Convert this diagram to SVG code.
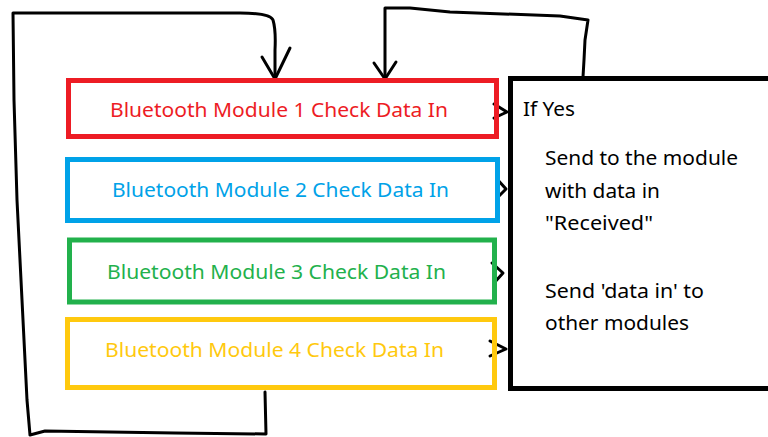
<svg xmlns="http://www.w3.org/2000/svg" width="768" height="437" viewBox="0 0 768 437">
  <style>
    .box { fill: none; stroke-width: 5; }
    .lbl { font-family: "Noto Sans", "Open Sans", "Liberation Sans", sans-serif; font-size: 20px; }
    .wire { fill: none; stroke: #000; stroke-width: 3; stroke-linecap: round; stroke-linejoin: round; }
  </style>
  <rect width="768" height="437" fill="#fff"/>

  <g id="connectors">
    <!-- outer loop back to module 1 -->
    <path class="wire" d="M265,392 L266,434 L175,433 L45,431 L30,435 L27,400 L22,300 L17,200 L14,100 L13,13 L240,13 Q270,13 273,20 Q276,30 275,50 L275,79"/>
    <path class="wire" d="M262,57 L275,79 L290,48"/>
    <!-- loop from processor box back to module 1 -->
    <path class="wire" d="M583,77 L584,60 L585,40 L588,20 L560,16 L450,12 L410,8 L385,8 L385,79"/>
    <path class="wire" d="M374,63 L385,79 L396,62"/>
    <!-- module outputs into processor box -->
    <path class="wire" d="M494,104 L507,112 L494,118"/>
    <path class="wire" d="M497,179 L506,189 L497,198"/>
    <path class="wire" d="M492,263 L503,273 L494,283"/>
    <path class="wire" d="M490,341 L506,349 L490,356"/>
  </g>

  <g id="module1">
    <rect class="box" x="68.5" y="80.5" width="428" height="56" stroke="#ed1c24"/>
    <text class="lbl" x="110" y="117" fill="#ed1c24" textLength="338" lengthAdjust="spacingAndGlyphs">Bluetooth Module 1 Check Data In</text>
  </g>
  <g id="module2">
    <rect class="box" x="67.5" y="159.5" width="430" height="61" stroke="#00a2e8"/>
    <text class="lbl" x="112" y="197" fill="#00a2e8" textLength="337" lengthAdjust="spacingAndGlyphs">Bluetooth Module 2 Check Data In</text>
  </g>
  <g id="module3">
    <rect class="box" x="69.5" y="240" width="425" height="62" stroke="#22b14c"/>
    <text class="lbl" x="107" y="279" fill="#22b14c" textLength="339" lengthAdjust="spacingAndGlyphs">Bluetooth Module 3 Check Data In</text>
  </g>
  <g id="module4">
    <rect class="box" x="67.5" y="319.5" width="427" height="68" stroke="#ffc90e"/>
    <text class="lbl" x="105" y="357" fill="#ffc90e" textLength="339" lengthAdjust="spacingAndGlyphs">Bluetooth Module 4 Check Data In</text>
  </g>

  <g id="processor">
    <rect class="box" x="510.5" y="78.5" width="280" height="310" stroke="#000"/>
    <text class="lbl" x="523" y="116" fill="#000" textLength="52" lengthAdjust="spacingAndGlyphs">If Yes</text>
    <text class="lbl" x="545" y="165" fill="#000" textLength="193" lengthAdjust="spacingAndGlyphs">Send to the module</text>
    <text class="lbl" x="545" y="198" fill="#000" textLength="115" lengthAdjust="spacingAndGlyphs">with data in</text>
    <text class="lbl" x="545" y="230" fill="#000" textLength="108" lengthAdjust="spacingAndGlyphs">"Received"</text>
    <text class="lbl" x="545" y="298" fill="#000" textLength="159" lengthAdjust="spacingAndGlyphs">Send 'data in' to</text>
    <text class="lbl" x="545" y="330" fill="#000" textLength="144" lengthAdjust="spacingAndGlyphs">other modules</text>
  </g>
</svg>
